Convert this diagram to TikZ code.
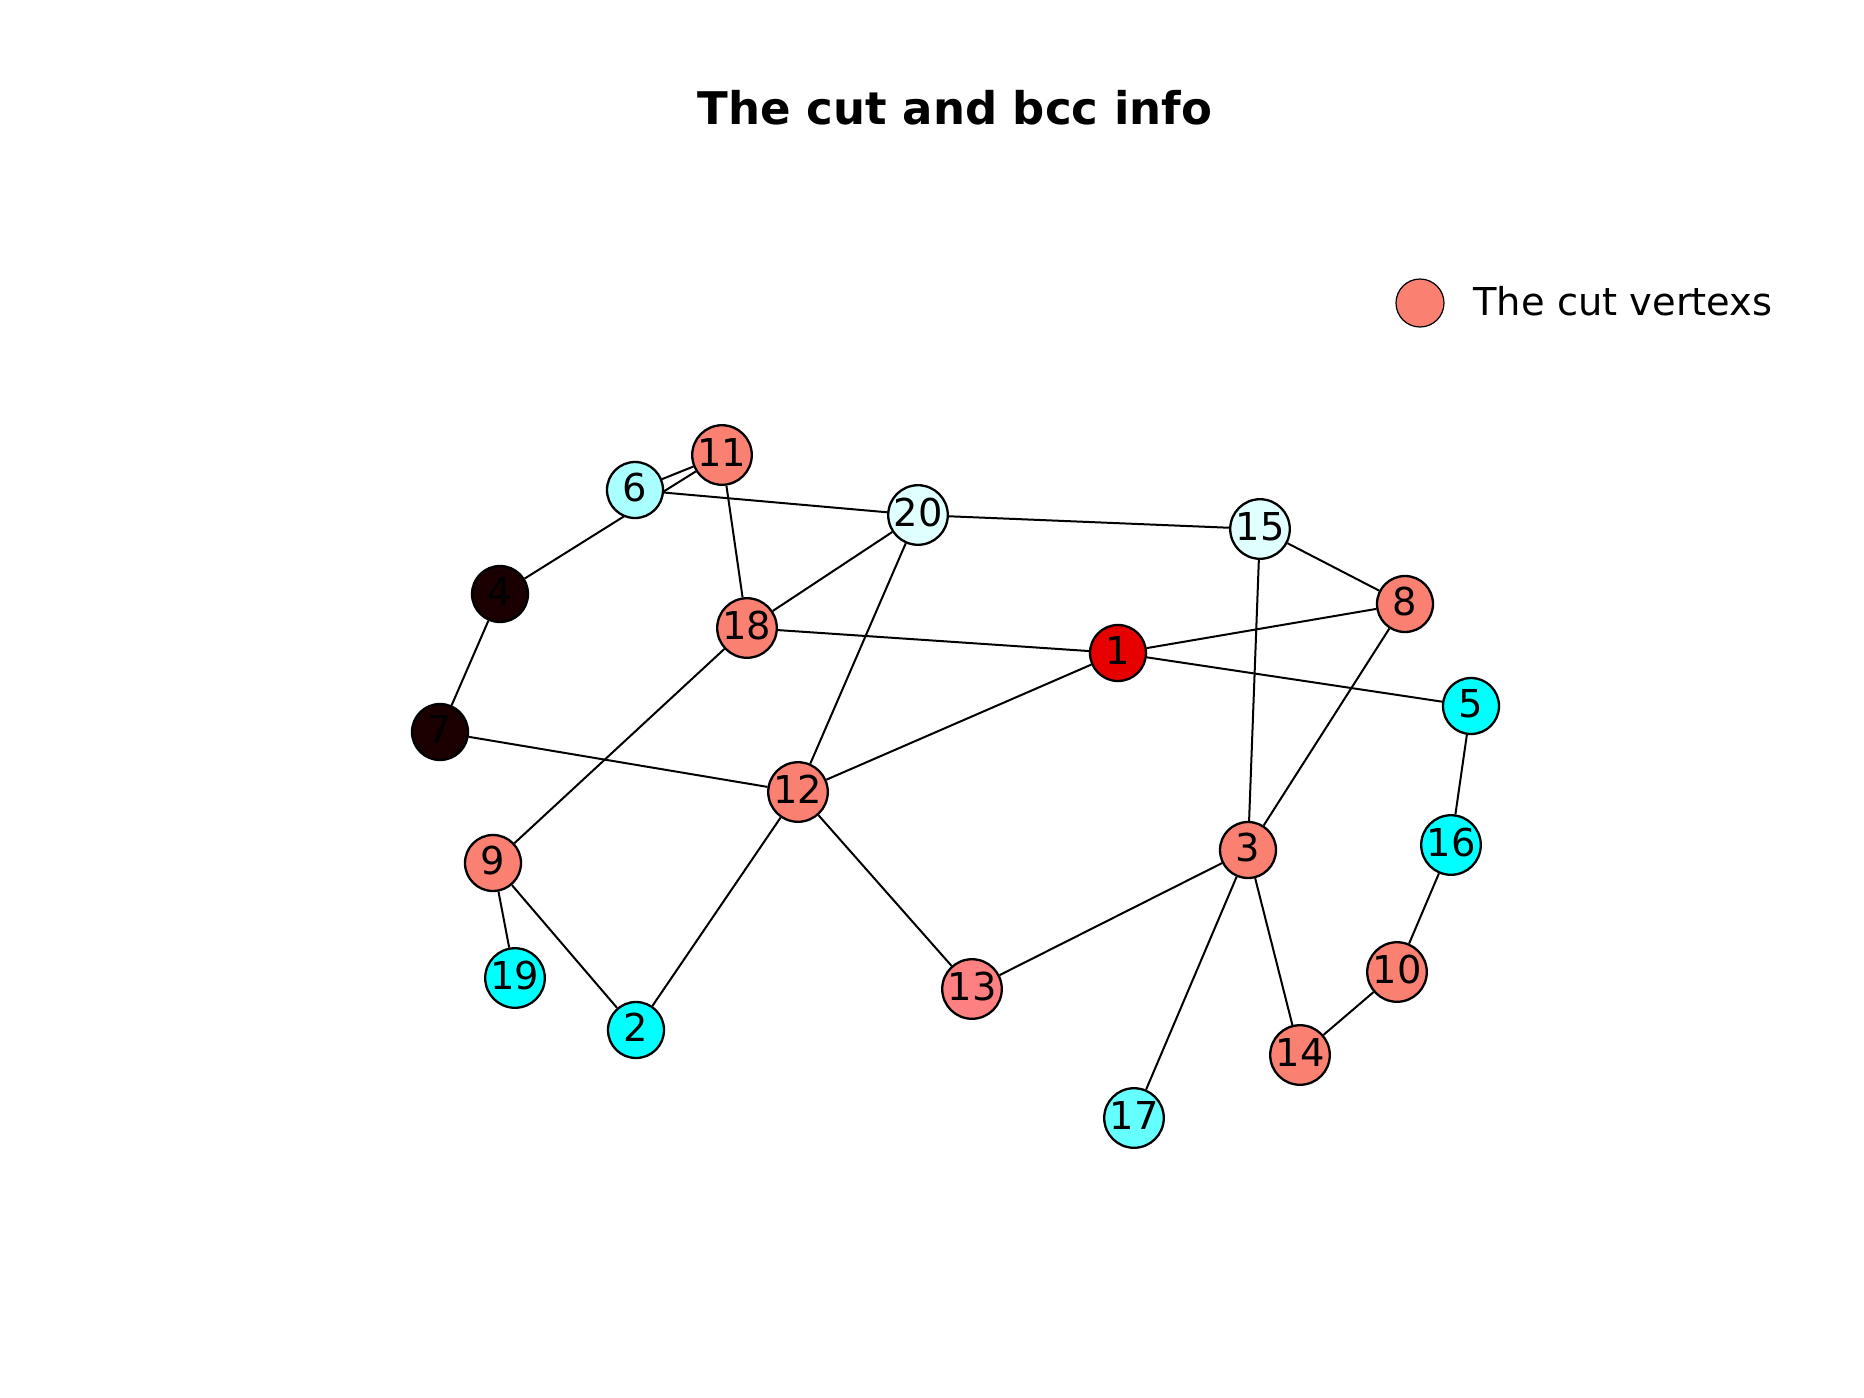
\documentclass[tikz,border=0pt]{standalone}
\usepackage{fontspec}
\setmainfont{DejaVu Sans}
\pgfdeclarelayer{background}
\pgfsetlayers{background,main}
\definecolor{salmonc}{HTML}{FA8072}
\definecolor{coralc}{HTML}{FF8080}
\definecolor{redc}{HTML}{E60000}
\definecolor{darkc}{HTML}{1A0000}
\definecolor{cyanc}{HTML}{00FFFF}
\definecolor{cyanb}{HTML}{66FFFF}
\definecolor{cyanl}{HTML}{AAFFFF}
\definecolor{cyanxl}{HTML}{E0FFFF}
\begin{document}
\begin{tikzpicture}[x=0.5pt,y=-0.5pt,
  vtx/.style={circle, draw=black, line width=1.15pt, minimum size=28pt, inner sep=0pt,
    font=\fontsize{19.2}{20}\selectfont, text height=14pt, text depth=3pt},
  edge/.style={line width=1pt, black}]
\useasboundingbox (0,0) rectangle (1864,1398);
\node[anchor=base, font=\fontsize{22.5}{26}\selectfont\bfseries] (title) at (955,124) {The cut and bcc info};
\node[circle, draw=black, line width=0.6pt, fill=salmonc, minimum size=24pt, inner sep=0pt] (legc) at (1420,303) {};
\node[anchor=base west, inner sep=0pt, font=\fontsize{19.2}{22}\selectfont] (legt) at (1473,315) {The cut vertexs};

\node[vtx, fill=redc] (n1) at (1118,653) {1};
\node[vtx, fill=cyanc] (n2) at (636,1030) {2};
\node[vtx, fill=salmonc] (n3) at (1248,850) {3};
\node[vtx, fill=darkc] (n4) at (500,594) {4};
\node[vtx, fill=cyanc] (n5) at (1471,706) {5};
\node[vtx, fill=cyanl] (n6) at (635,490) {6};
\node[vtx, fill=darkc] (n7) at (440,732) {7};
\node[vtx, fill=salmonc] (n8) at (1405,604) {8};
\node[vtx, fill=salmonc] (n9) at (493,863) {9};
\node[vtx, fill=salmonc] (n10) at (1397,972) {10};
\node[vtx, fill=salmonc] (n11) at (722,455) {11};
\node[vtx, fill=salmonc] (n12) at (798,792) {12};
\node[vtx, fill=coralc] (n13) at (972,989) {13};
\node[vtx, fill=salmonc] (n14) at (1300,1055) {14};
\node[vtx, fill=cyanxl] (n15) at (1260,529) {15};
\node[vtx, fill=cyanc] (n16) at (1451,845) {16};
\node[vtx, fill=cyanb] (n17) at (1134,1118) {17};
\node[vtx, fill=salmonc] (n18) at (747,628) {18};
\node[vtx, fill=cyanc] (n19) at (515,978) {19};
\node[vtx, fill=cyanxl] (n20) at (918,515) {20};

\begin{pgfonlayer}{background}
\draw[edge] (n6) -- (n11);
\draw[edge] (n4) -- (n11);
\draw[edge] (n6) -- (n20);
\draw[edge] (n11) -- (n18);
\draw[edge] (n20) -- (n15);
\draw[edge] (n20) -- (n18);
\draw[edge] (n20) -- (n12);
\draw[edge] (n15) -- (n8);
\draw[edge] (n15) -- (n3);
\draw[edge] (n18) -- (n1);
\draw[edge] (n18) -- (n9);
\draw[edge] (n1) -- (n8);
\draw[edge] (n1) -- (n5);
\draw[edge] (n1) -- (n12);
\draw[edge] (n4) -- (n7);
\draw[edge] (n7) -- (n12);
\draw[edge] (n12) -- (n2);
\draw[edge] (n12) -- (n13);
\draw[edge] (n9) -- (n19);
\draw[edge] (n9) -- (n2);
\draw[edge] (n13) -- (n3);
\draw[edge] (n3) -- (n8);
\draw[edge] (n3) -- (n17);
\draw[edge] (n3) -- (n14);
\draw[edge] (n14) -- (n10);
\draw[edge] (n10) -- (n16);
\draw[edge] (n16) -- (n5);
\end{pgfonlayer}
\end{tikzpicture}
\end{document}
